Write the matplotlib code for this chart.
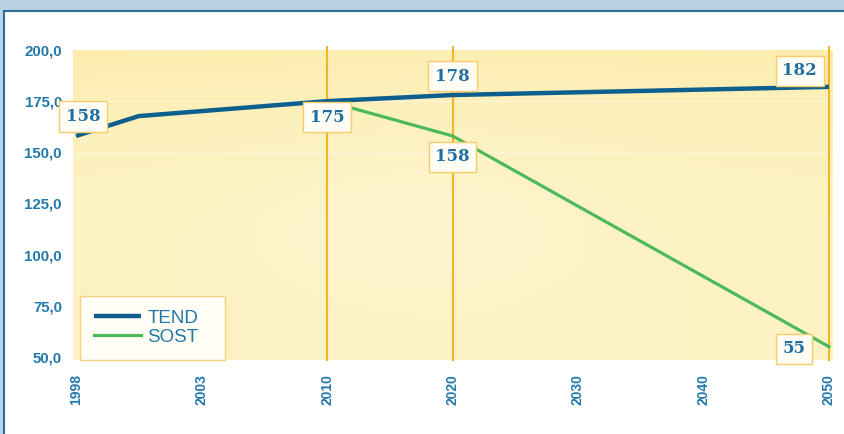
import numpy as np
import matplotlib
matplotlib.use("Agg")
import matplotlib.pyplot as plt
from matplotlib.patches import Rectangle
from matplotlib.colors import LinearSegmentedColormap

# data (x in tick slots: 0 = 1998, 1 = 2003, 2 = 2010 ...)
years = ["1998", "2003", "2010", "2020", "2030", "2040", "2050"]
tend_x = [0, 0.5, 2, 3, 6]
tend = [158, 167.7, 175, 178, 182]
sost_x = [2, 3, 6]
sost = [175, 158, 55]
yticks = [50, 75, 100, 125, 150, 175, 200]

# labelled points: (slot, value, offset in points)
labels = [
    (0, 158, (5, 14)),
    (2, 175, (0, -11.5)),
    (3, 178, (0, 13.5)),
    (3, 158, (0, -15)),
    (6, 182, (-21, 11.5)),
    (6, 55, (-25, -1.5)),
]
marked = [2, 3, 6]

blue_txt = "#2378ab"
orange = "#f6b526"

fig = plt.figure(figsize=(8.44, 4.34), dpi=100)
fig.patch.set_facecolor("#b9d3e4")
# white panel with dark left/top edge
fig.patches.append(Rectangle((4/844, -0.01), 1.0, (434-11)/434 + 0.01, transform=fig.transFigure,
                             facecolor="white", edgecolor="#2a6f9a", linewidth=1.5, zorder=-1))

ax = fig.add_axes([73/844, 1 - 360/434, (832-73)/844, 310/434])
ax.set_facecolor("none")
ax.set_xlim(-0.024, 6.024)
ax.set_ylim(48.5, 200)

# soft yellow background, a bit stronger near the top
cmap = LinearSegmentedColormap.from_list("bg", ["#fef8df", "#fdf2c4", "#fcecaa"])
gx, gy = np.meshgrid(np.linspace(0, 1, 300), np.linspace(0, 1, 120))
shade = 0.45 + 0.4 * gy ** 3 - 0.2 * np.exp(-((gx - 0.45) ** 2) / 0.05 - ((gy - 0.45) ** 2) / 0.05) \
    + 0.1 * np.abs(gx - 0.5)
ax.imshow(shade, cmap=cmap, vmin=0, vmax=1, origin="lower", aspect="auto",
          extent=[-0.024, 6.024, 48.5, 200], zorder=0)

for yv in [150, 175]:
    ax.axhline(yv, color="white", lw=1, alpha=0.4, zorder=1)

for xv in marked:
    ax.plot([xv, xv], [48.5, 201.5], color=orange, lw=1.5, zorder=2, clip_on=False)

ax.plot(tend_x, tend, color="#0d5f8e", lw=3.2, label="TEND", zorder=4, solid_capstyle="butt")
ax.plot(sost_x, sost, color="#4dba5a", lw=2.3, label="SOST", zorder=3)

for xv, val, off in labels:
    ax.annotate(str(val), (xv, val), xytext=off, textcoords="offset points",
                ha="center", va="center", fontsize=12, fontweight="bold",
                family="DejaVu Serif", color="#1f6fa5", zorder=6,
                bbox=dict(boxstyle="square,pad=0.4", fc="#fffdf3", ec="#f7cd6a", lw=1))

ax.set_xticks(range(len(years)))
ax.set_xticklabels(years, rotation=90, fontsize=10, color=blue_txt,
                   family="Liberation Sans", fontweight="bold")
ax.set_yticks(yticks)
ax.set_yticklabels([f"{v:.1f}".replace(".", ",") for v in yticks], fontsize=10.8,
                   color=blue_txt, family="Liberation Sans", fontweight="bold")
ax.tick_params(axis="x", length=0, pad=10)
ax.tick_params(axis="y", length=0, pad=8)
for s in ax.spines.values():
    s.set_visible(False)

leg = ax.legend(loc="lower left", bbox_to_anchor=(0.009, 0.0, 0.191, 0.2), mode="expand",
                frameon=True, prop={"family": "Liberation Sans", "size": 13.5},
                fancybox=False, handlelength=2.5, borderpad=0.75, labelspacing=0.1,
                handletextpad=0.35, borderaxespad=0.0)
leg.get_frame().set_edgecolor("#f7d27a")
leg.get_frame().set_facecolor("#fffdf4")
leg.get_frame().set_alpha(1)
for t in leg.get_texts():
    t.set_color(blue_txt)

fig.savefig("out.png", dpi=100)
